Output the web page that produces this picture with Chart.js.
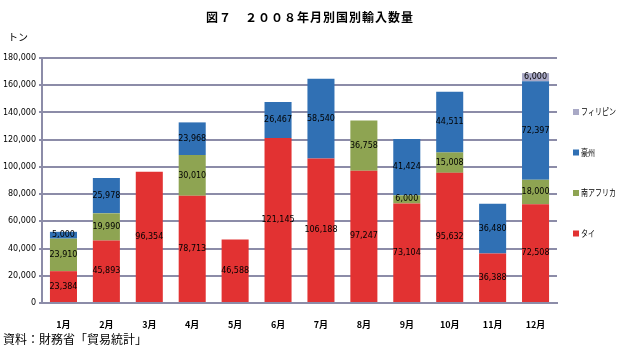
<!DOCTYPE html>
<html>
<head>
<meta charset="utf-8">
<script src="https://cdn.jsdelivr.net/npm/chart.js@4"></script>
<style>
  body { margin: 0; background: #fff; }
  #wrap { position: relative; width: 620px; height: 352px; }
  #title { position: absolute; left: 0; top: 8px; width: 620px; text-align: center;
    font: bold 12px "Noto Sans CJK JP", sans-serif; color: #000; letter-spacing: 1px; }
  #unit { position: absolute; left: 8px; top: 29px; font: 10px "Noto Sans CJK JP", sans-serif; }
  #source { position: absolute; left: 3px; top: 330px; font: 12px "Noto Sans CJK JP", sans-serif; }
</style>
</head>
<body>
<div id="wrap">
  <canvas id="barChart" width="620" height="352"></canvas>
  <div id="title">図７　２００８年月別国別輸入数量</div>
  <div id="unit">トン</div>
  <div id="source">資料：財務省「貿易統計」</div>
</div>
<script>
const months = ['1月', '2月', '3月', '4月', '5月', '6月', '7月', '8月', '9月', '10月', '11月', '12月'];
const thai = [23384, 45893, 96354, 78713, 46588, 121145, 106188, 97247, 73104, 95632, 36388, 72508];
const southAfrica = [23910, 19990, 0, 30010, 0, 0, 0, 36758, 6000, 15008, 0, 18000];
const australia = [5000, 25978, 0, 23968, 0, 26467, 58540, 0, 41424, 44511, 36480, 72397];
const philippines = [0, 0, 0, 0, 0, 0, 0, 0, 0, 0, 0, 6000];

// 値ラベル（0は表示しない）
const valueLabels = {
    id: 'valueLabels',
    afterDatasetsDraw(chart) {
        const ctx = chart.ctx;
        ctx.save();
        ctx.font = '8px "DejaVu Sans", sans-serif';
        ctx.fillStyle = '#000';
        ctx.textAlign = 'center';
        ctx.textBaseline = 'middle';
        chart.data.datasets.forEach((ds, i) => {
            chart.getDatasetMeta(i).data.forEach((bar, j) => {
                const v = ds.data[j];
                if (!v) return;
                const p = bar.getProps(['x', 'y', 'base'], true);
                ctx.fillText(v.toLocaleString('en-US'), p.x, (p.y + p.base) / 2);
            });
        });
        ctx.restore();
    }
};

// 右側の凡例（逆順）
const sideLegend = {
    id: 'sideLegend',
    afterDraw(chart) {
        const ctx = chart.ctx;
        const x = chart.chartArea.right + 16;
        ctx.save();
        ctx.font = '9px "Noto Sans CJK JP", sans-serif';
        ctx.textBaseline = 'middle';
        const items = chart.data.datasets.slice().reverse();
        items.forEach((ds, k) => {
            const y = 112 + k * 40.5;
            ctx.fillStyle = ds.backgroundColor;
            ctx.fillRect(x, y - 3, 6, 6);
            ctx.fillStyle = '#000';
            ctx.fillText(ds.label, x + 8, y, ds.label.length * 7);
        });
        ctx.restore();
    }
};

const ctx = document.getElementById('barChart').getContext('2d');
new Chart(ctx, {
    type: 'bar',
    data: {
        labels: months,
        datasets: [
            { label: 'タイ', data: thai, backgroundColor: '#e23232' },
            { label: '南アフリカ', data: southAfrica, backgroundColor: '#8ea452' },
            { label: '豪州', data: australia, backgroundColor: '#3070b4' },
            { label: 'フィリピン', data: philippines, backgroundColor: '#a9a9c6' }
        ]
    },
    options: {
        responsive: false,
        animation: false,
        layout: {
            padding: { top: 58, bottom: 22, left: 0, right: 63 }
        },
        datasets: {
            bar: { barPercentage: 0.63, categoryPercentage: 1 }
        },
        plugins: {
            legend: { display: false },
            tooltip: { enabled: false }
        },
        scales: {
            x: {
                stacked: true,
                grid: { display: false },
                border: { color: '#8c8ca8', width: 2 },
                ticks: {
                    color: '#000',
                    padding: 8,
                    font: { size: 9, weight: 'bold', family: '"Noto Sans CJK JP", sans-serif' }
                },
                afterFit(scale) { scale.height = 27; }
            },
            y: {
                stacked: true,
                min: 0,
                max: 180000,
                grid: { color: '#8c8ca8', lineWidth: 2, tickLength: 3 },
                border: { color: '#8c8ca8', width: 2 },
                ticks: {
                    stepSize: 20000,
                    color: '#000',
                    padding: 3,
                    font: { size: 8, family: '"DejaVu Sans", sans-serif' },
                    callback: v => v.toLocaleString('en-US')
                },
                afterFit(scale) { scale.width = 42; }
            }
        }
    },
    plugins: [valueLabels, sideLegend]
});
</script>
</body>
</html>
